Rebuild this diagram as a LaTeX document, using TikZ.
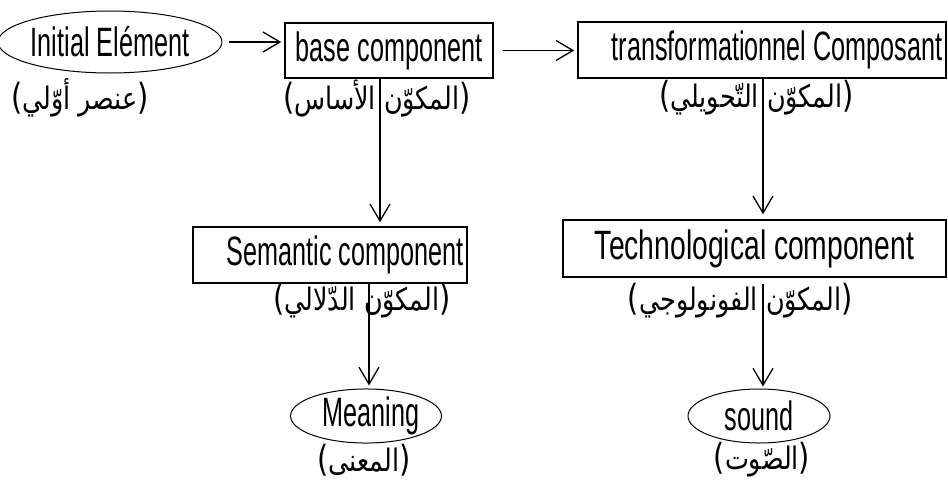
\documentclass[tikz,border=0pt]{standalone}
\usepackage{fontspec}
\setmainfont[FakeStretch=0.615]{Liberation Sans}
\newfontfamily\widefont[FakeStretch=0.69]{Liberation Sans}
\newfontfamily\arabicfont[Script=Arabic,FakeStretch=0.82]{DejaVu Sans}
\newfontfamily\parfont[FakeStretch=0.8]{DejaVu Sans}
\TeXXeTstate=1
\usetikzlibrary{arrows.meta,shapes.geometric}
\newcommand{\arlab}[1]{{\parfont\fontsize{36}{38}\selectfont(}{\arabicfont\beginR #1\endR}{\parfont\fontsize{36}{38}\selectfont)}}
\newlength\labwl
\newlength\labwr
% label centred on the gap between its two words: #1 = right word, #2 = left word
\newcommand{\splitlab}[2]{%
  \settowidth\labwl{{\parfont\fontsize{36}{38}\selectfont(}{\arabicfont #2}}%
  \settowidth\labwr{{\arabicfont #1}{\parfont\fontsize{36}{38}\selectfont)}}%
  \ifdim\labwl<\labwr\hspace*{\dimexpr\labwr-\labwl\relax}\fi
  \arlab{#1 #2}%
  \ifdim\labwr<\labwl\hspace*{\dimexpr\labwl-\labwr\relax}\fi}
\tikzset{
  box/.style={draw, line width=1.5pt, inner sep=0pt, font=\fontsize{41}{43}\selectfont},
  oval/.style={draw, ellipse, line width=1pt, inner sep=0pt, font=\fontsize{41}{43}\selectfont},
  lab/.style={inner sep=0pt, font=\fontsize{31}{33}\selectfont},
  arr/.style={line width=1.3pt, -{Straight Barb[length=17pt,width=20pt]}}
}
\begin{document}
\begin{tikzpicture}[x=1pt,y=-1pt]
\useasboundingbox (0,0) rectangle (948,482);
% nodes
\node[oval, minimum width=214pt, minimum height=62pt] (e1) at (110,42) {Initial Elément};
\node[box, minimum width=208pt, minimum height=55pt] (b1) at (389,50.5) {base component};
\node[box, minimum width=368pt, minimum height=56pt] (b2) at (762,50) {\hspace*{30pt}transformationnel Composant};
\node[box, minimum width=274pt, minimum height=56pt] (s1) at (330,255) {\hspace*{30pt}Semantic component};
\node[box, minimum width=383pt, minimum height=57pt] (t1) at (754.5,248.5) {\widefont Technological component};
\node[oval, minimum width=147pt, minimum height=54pt] (m1) at (366,416) {\hspace*{10pt}Meaning};
\node[oval, minimum width=142pt, minimum height=54pt] (so) at (759,416) {sound};
% connectors
\draw[arr, shorten <=7pt, shorten >=3pt] (e1.east) -- (e1.east -| b1.west);
\draw[arr, shorten <=9pt, shorten >=3pt] (b1.east) -- (b1.east -| b2.west);
\draw[arr, shorten >=4pt] ([xshift=-9pt]b1.south) -- ([xshift=-9pt]b1.south |- s1.north);
\draw[arr, shorten >=5pt] ([xshift=1pt]b2.south) -- ([xshift=1pt]b2.south |- t1.north);
\draw[arr, shorten >=3pt] ([xshift=3pt]m1.north |- s1.south) -- ([xshift=3pt]m1.north);
\draw[arr, shorten <=6pt, shorten >=2pt] ([xshift=4pt]so.north |- t1.south) -- ([xshift=4pt]so.north);
% labels
\node[lab] (l1) at (80,98) {\arlab{عنصر أوّلي}};
\node[lab] (l2) at (380,98) {\splitlab{المكوّن}{الأساس}};
\node[lab] (l3) at (763,98) {\splitlab{المكوّن}{التّحويلي}};
\node[lab] (l4) at (360,301) {\splitlab{المكوّن}{الدّلالي}};
\node[lab] (l5) at (762,301) {\splitlab{المكوّن}{الفونولوجي}};
\node[lab] (l6) at (364,460) {\arlab{المعنى}};
\node[lab] (l7) at (762,460) {\arlab{الصّوت}};
\end{tikzpicture}
\end{document}
